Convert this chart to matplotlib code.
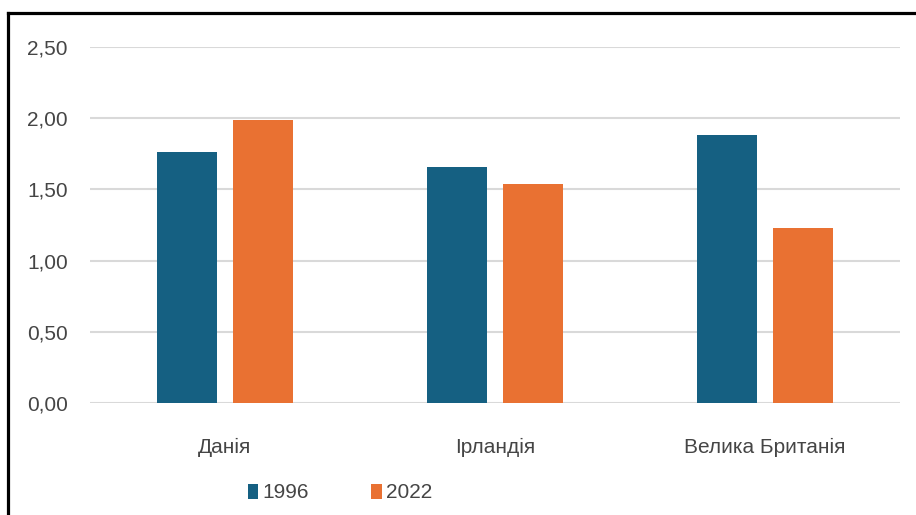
import matplotlib
matplotlib.use("Agg")
import matplotlib.pyplot as plt
import numpy as np
from matplotlib.lines import Line2D

categories = ["Данія", "Ірландія", "Велика Британія"]
series_names = ["1996", "2022"]
values_1996 = [1.76, 1.66, 1.88]
values_2022 = [1.99, 1.54, 1.23]
yticks = [0.0, 0.5, 1.0, 1.5, 2.0, 2.5]
ytick_labels = ["0,00", "0,50", "1,00", "1,50", "2,00", "2,50"]

colors = ["#156082", "#E97132"]
text_color = "#454545"

plt.rcParams['font.family'] = ['Liberation Sans', 'DejaVu Sans']

fig = plt.figure(figsize=(9.16, 5.15), dpi=100)
fig.patch.set_facecolor("white")
ax = fig.add_axes([90/916, 1-403/515, 810/916, (403-47)/515])

x = np.arange(len(categories))
w = 0.225
off = 0.141
b1 = ax.bar(x - off, values_1996, w, color=colors[0], label=series_names[0], zorder=3)
b2 = ax.bar(x + off, values_2022, w, color=colors[1], label=series_names[1], zorder=3)

ax.set_xlim(-0.5, 2.5)
ax.set_ylim(0, 2.5)
ax.set_yticks(yticks)
ax.set_yticklabels(ytick_labels)
ax.set_xticks(x)
ax.set_xticklabels(categories)
ax.tick_params(axis='both', length=0, labelsize=15, colors=text_color)
ax.tick_params(axis='y', pad=16)
ax.tick_params(axis='x', pad=25)
for s in ax.spines.values():
    s.set_visible(False)
ax.grid(axis='y', color="#D9D9D9", linewidth=1.5, zorder=0)
ax.set_axisbelow(True)

leg = fig.legend(handles=[b1, b2], labels=series_names, loc='center',
                 bbox_to_anchor=(340/916, 1-493/515), ncol=2, frameon=False,
                 fontsize=15, handlelength=0.5, handleheight=0.7,
                 handletextpad=0.2, columnspacing=3.0, labelcolor=text_color)

# outer frame lines (top and left)
fig.add_artist(Line2D([8/916, 1], [1-12.5/515, 1-12.5/515], color="black",
                      linewidth=2.3, transform=fig.transFigure))
fig.add_artist(Line2D([8/916, 8/916], [0, 1-12.5/515], color="black",
                      linewidth=2.3, transform=fig.transFigure))

fig.savefig("out.png", dpi=100)
